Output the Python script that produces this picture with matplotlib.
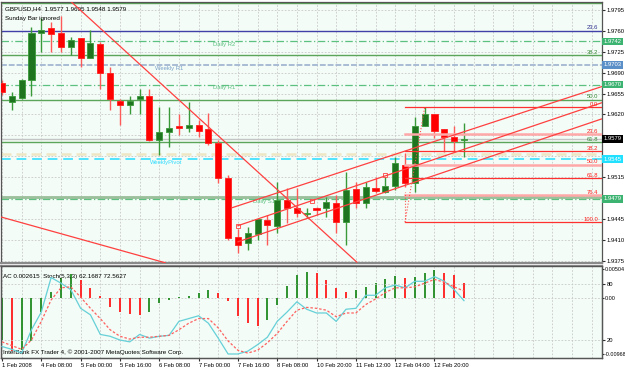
import matplotlib.pyplot as plt
import matplotlib.transforms as mtransforms

plt.rcParams['font.family'] = ['Liberation Sans', 'DejaVu Sans']

# Velas H4 de GBPUSD
apertura = [1.9673, 1.9640, 1.9648, 1.9677, 1.9756, 1.9764, 1.9756, 1.9732, 1.9747, 1.9714,
            1.9737, 1.9689, 1.9643, 1.9635, 1.9645, 1.9650, 1.9578, 1.9590, 1.9600, 1.9598,
            1.9603, 1.9595, 1.9573, 1.9514, 1.9415, 1.9405, 1.9420, 1.9444, 1.9434, 1.9477,
            1.9464, 1.9454, 1.9464, 1.9464, 1.9472, 1.9440, 1.9496, 1.9472, 1.9497, 1.9491,
            1.9501, 1.9536, 1.9506, 1.9600, 1.9620, 1.9595, 1.9583, 1.9577]
maximo = [1.9678, 1.9658, 1.9680, 1.9766, 1.9782, 1.9774, 1.9784, 1.9749, 1.9747, 1.9762,
          1.9741, 1.9699, 1.9645, 1.9650, 1.9662, 1.9662, 1.9632, 1.9633, 1.9621, 1.9640,
          1.9611, 1.9623, 1.9578, 1.9518, 1.9429, 1.9432, 1.9445, 1.9452, 1.9507, 1.9497,
          1.9497, 1.9464, 1.9465, 1.9482, 1.9486, 1.9523, 1.9507, 1.9507, 1.9516, 1.9516,
          1.9548, 1.9556, 1.9615, 1.9632, 1.9621, 1.9596, 1.9600, 1.9605]
minimo = [1.9653, 1.9628, 1.9645, 1.9650, 1.9724, 1.9725, 1.9724, 1.9720, 1.9700, 1.9714,
          1.9662, 1.9628, 1.9603, 1.9620, 1.9620, 1.9575, 1.9553, 1.9566, 1.9586, 1.9591,
          1.9583, 1.9569, 1.9506, 1.9410, 1.9388, 1.9393, 1.9410, 1.9402, 1.9422, 1.9439,
          1.9449, 1.9447, 1.9452, 1.9449, 1.9422, 1.9402, 1.9464, 1.9464, 1.9489, 1.9489,
          1.9494, 1.9499, 1.9491, 1.9600, 1.9580, 1.9558, 1.9558, 1.9548]
cierre = [1.9658, 1.9650, 1.9677, 1.9757, 1.9761, 1.9754, 1.9732, 1.9744, 1.9714, 1.9739,
          1.9690, 1.9645, 1.9635, 1.9643, 1.9650, 1.9578, 1.9590, 1.9598, 1.9598, 1.9603,
          1.9593, 1.9573, 1.9514, 1.9414, 1.9402, 1.9422, 1.9445, 1.9435, 1.9477, 1.9464,
          1.9455, 1.9455, 1.9460, 1.9474, 1.9440, 1.9494, 1.9472, 1.9499, 1.9492, 1.9501,
          1.9538, 1.9506, 1.9601, 1.9620, 1.9593, 1.9583, 1.9575, 1.9579]

# Indicadores: Accelerator y Estocastico
ac = [-0.0073, -0.0092, -0.0090, -0.0075, -0.0024, 0.0011, 0.0035, 0.0041, 0.0031, 0.0018,
      0.0003, -0.0015, -0.0025, -0.0027, -0.0029, -0.0024, -0.0009, -0.0003, 0.0002, 0.0004,
      0.0008, 0.0014, 0.0008, -0.0006, -0.0031, -0.0044, -0.0048, -0.0038, -0.0013, 0.0020,
      0.0040, 0.0045, 0.0043, 0.0031, 0.0018, 0.0011, 0.0014, 0.0019, 0.0026, 0.0033,
      0.0038, 0.0034, 0.0036, 0.0043, 0.0049, 0.0043, 0.0040, 0.0026]
stoch_main = [13, 10, 6, 31, 50, 87, 81, 74, 54, 47, 26, 24, 20, 18, 26, 22, 24, 25, 40, 43,
              46, 38, 22, 5, 5, 8, 15, 23, 40, 50, 61, 53, 49, 49, 40, 53, 54, 68, 68, 76,
              79, 76, 83, 83, 88, 83, 74, 62.2]
stoch_signal = [18, 14, 10, 20, 40, 63, 76, 77, 66, 54, 43, 31, 24, 21, 23, 23, 24, 25, 31, 38,
                43, 43, 33, 19, 9, 6, 9, 17, 27, 40, 52, 55, 54, 52, 45, 49, 49, 58, 64, 71,
                76, 76, 77, 81, 85, 82, 77, 72.6]

fechas = ['1 Feb 2008', '4 Feb 08:00', '5 Feb 00:00', '5 Feb 16:00', '6 Feb 08:00',
          '7 Feb 00:00', '7 Feb 16:00', '8 Feb 08:00', '10 Feb 20:00', '11 Feb 12:00',
          '12 Feb 04:00', '12 Feb 20:00']
pos_fechas = [0, 4, 8, 12, 16, 20, 24, 28, 32, 36, 40, 44]

ticks_precio = [1.9375, 1.9410, 1.9445, 1.9480, 1.9515, 1.9550, 1.9585,
                1.9620, 1.9655, 1.9690, 1.9725, 1.9760, 1.9795]
# las que quedan tapadas por las etiquetas de color
ticks_ocultos = [1.9480, 1.9550, 1.9585]

# Pivotes (precio, texto, x del texto, color)
pivotes = [(1.9742, 'Daily R2', 21.5, '#5cc080'),
           (1.9670, 'Daily R1', 21.5, '#5cc080'),
           (1.9479, 'Daily S1', 25.5, '#5cc080')]
weekly_r1 = 1.9703
weekly_pivot = 1.9545
pivote_diario = 1.9554
precio_actual = 1.9579

# Fibonacci grande (niveles visibles)
fibo_grande = [(1.98067, ''), (1.97187, '38.2'), (1.96449, '50.0'), (1.95736, '61.8'), (1.94814, '')]
linea_azul = 1.9760

# Fibonacci pequeno
fibo_alto = 1.9632
fibo_bajo = 1.9440
niveles_fibo = [0.0, 23.6, 38.2, 50.0, 61.8, 76.4, 100.0]

# Canal de regresion y otras tendencias (indice de vela, precio)
tendencias = [([23.4, 61.1], [1.9464, 1.9667]),
              ([24.0, 61.1], [1.9434, 1.9640]),
              ([24.0, 61.1], [1.9407, 1.9613]),
              ([7.0, 36.1], [1.9809, 1.9373]),
              ([-0.2, 16.6], [1.9449, 1.9372])]
anclas = ([24.0, 31.5, 39.0], [1.9434, 1.9476, 1.9518])

# Etiquetas del eje de precios
etiquetas = [(1.9742, '#3cb371'), (1.9703, '#5b8fc8'), (1.9670, '#3cb371'),
             (1.9579, 'black'), (1.9545, '#22e0ff'), (1.9479, '#3cb371')]

fondo = '#f3fcf6'
fig = plt.figure(figsize=(6.25, 3.70), dpi=100, facecolor='white')
ax = fig.add_axes([1 / 625, 107 / 370, 601 / 625, 261 / 370], facecolor=fondo)
ax2 = fig.add_axes([1 / 625, 12 / 370, 601 / 625, 92 / 370], facecolor=fondo, sharex=ax)
ax3 = ax2.twinx()

xmin, xmax = -0.1, 61.04
ax.set_xlim(xmin, xmax)
ax.set_ylim(1.93716, 1.98080)

# rejilla
for i in range(0, 62, 2):
    ax.axvline(i, color='#c8c8c8', lw=0.6, ls=(0, (2, 2)), zorder=0)
    ax2.axvline(i, color='#c8c8c8', lw=0.6, ls=(0, (2, 2)), zorder=0)
for p in ticks_precio:
    ax.axhline(p, color='#c8c8c8', lw=0.6, ls=(0, (2, 2)), zorder=0)

# niveles horizontales
for p, txt in fibo_grande:
    ax.axhline(p, color='#5aa55a', lw=1.0, zorder=1)
ax.axhline(fibo_grande[-1][0], color='#9cc09c', lw=2.0, zorder=1)
ax.axhline(linea_azul, color='#4040a8', lw=1.0, zorder=1)
ax.axhline(weekly_r1, color='#a8bcd4', lw=1.4, ls=(0, (3, 1)), zorder=1)
ax.axhline(pivote_diario, color='#efe6c4', lw=1.8, ls=(0, (4, 2)), zorder=1)
ax.axhline(weekly_pivot, color='#50e4ff', lw=1.4, ls=(0, (5, 3)), zorder=1)
ax.axhline(precio_actual, color='#c4c4c4', lw=1.0, zorder=1)
for p, txt, xt, col in pivotes:
    ax.axhline(p, color=col, lw=0.9, ls=(0, (6, 2, 1, 2)), zorder=1)
    ax.text(xt, p - 0.00012, txt, color=col, fontsize=4.2, va='top', ha='left', zorder=1)
ax.text(15.6, weekly_r1 - 0.00015, 'Weekly R1', color='#7aa0c8', fontsize=4.2, va='top', zorder=1)
ax.text(15.1, weekly_pivot - 0.00012, 'WeeklyPivot', color='#30dcff', fontsize=4.2, va='top', zorder=1)

ytr = mtransforms.blended_transform_factory(ax.transAxes, ax.transData)
ax.text(0.9935, linea_azul + 0.00005, '23.6', color='#303090', fontsize=4.2,
        ha='right', va='bottom', transform=ytr)
for p, txt in fibo_grande:
    if txt:
        ax.text(0.9935, p + 0.00005, txt, color='#3a8a3a', fontsize=4.2,
                ha='right', va='bottom', transform=ytr)

# fibonacci pequeno
x_fibo = 41.0
for n in niveles_fibo:
    p = fibo_alto - (fibo_alto - fibo_bajo) * n / 100
    if n in (23.6, 50.0, 76.4):
        ax.plot([x_fibo, xmax], [p, p], color='#ffa8a8', lw=1.8, zorder=4)
    else:
        ax.plot([x_fibo, xmax], [p, p], color='#ff3030', lw=0.9, zorder=4)
    ax.text(0.9935, p + 0.00005, '%.1f' % n, color='#ff2020', fontsize=4.2,
            ha='right', va='bottom', transform=ytr, zorder=5)
ax.plot([x_fibo, 43.0], [fibo_bajo, fibo_alto], color='#ff5050', lw=0.8, ls=':', zorder=4)
ax.plot([x_fibo, x_fibo], [fibo_bajo, 1.9490], color='#ff5050', lw=0.8, ls=':', zorder=4)

# velas
for i in range(len(apertura)):
    o, h, l, c = apertura[i], maximo[i], minimo[i], cierre[i]
    if c >= o:
        cuerpo, borde, mecha = '#1f751f', '#3a9a3a', '#3a9a3a'
    else:
        cuerpo, borde, mecha = '#ff0000', '#ff2020', '#ff5a5a'
    ax.vlines(i, l, h, color=mecha, lw=1.0, zorder=2)
    ax.bar(i, abs(c - o) if abs(c - o) > 0.00002 else 0.00002, bottom=min(o, c), width=0.62,
           color=cuerpo, edgecolor=borde, lw=0.6, zorder=3)

# lineas de tendencia
for xs, ys in tendencias:
    ax.plot(xs, ys, color='#ff4040', lw=0.9, zorder=4)
ax.plot(anclas[0], anclas[1], ls='none', marker='s', ms=2.2, mfc='none', mec='#ff4040', mew=0.6, zorder=5)

# eje de precios
ax.yaxis.tick_right()
ax.set_yticks(ticks_precio)
ax.set_yticklabels(['' if t in ticks_ocultos else '%.4f' % t for t in ticks_precio])
ax.tick_params(axis='y', labelsize=4.2, length=2, pad=1.5, color='#303030')
ax.tick_params(axis='x', bottom=False, labelbottom=False)
for p, col in etiquetas:
    ax.text(1.0025, p, '%.4f' % p, color='white', fontsize=4.2, va='center', ha='left',
            transform=ytr, clip_on=False, zorder=10,
            bbox=dict(boxstyle='square,pad=0.25', fc=col, ec='none'))

ax.text(0.006, 0.985, 'GBPUSD,H4  1.9577 1.9605 1.9548 1.9579', transform=ax.transAxes,
        fontsize=4.5, va='top', ha='left', color='black')
ax.text(0.006, 0.945, 'Sunday Bar ignored', transform=ax.transAxes,
        fontsize=4.5, va='top', ha='left', color='black')

# panel inferior
idx = list(range(len(ac)))
colores_ac = []
for i in idx:
    if i == 0 or ac[i] >= ac[i - 1]:
        colores_ac.append('#1f8a1f')
    else:
        colores_ac.append('#ff1a1a')
ax2.vlines(idx, 0, ac, colors=colores_ac, lw=1.3, zorder=2)
ax2.set_ylim(-0.01043, 0.00556)
ax2.axhline(0, color='#c8c8c8', lw=0.6, ls=(0, (2, 2)), zorder=0)
ax2.yaxis.tick_right()
ax2.set_yticks([-0.00968, 0.0, 0.00504])
ax2.set_yticklabels(['-0.00968', '0.00', '0.00504'])
ax2.tick_params(axis='y', labelsize=3.9, length=1.5, pad=0.6, color='#303030')

ax3.plot(idx, stoch_main, color='#66d0d8', lw=0.9, zorder=3)
ax3.plot(idx, stoch_signal, color='#ff6060', lw=0.9, ls=(0, (2, 1.5)), zorder=3)
ax3.set_ylim(0.7, 99.4)
ax3.set_yticks([20, 80])
ax3.set_yticklabels(['20', '80'])
ax3.tick_params(axis='y', labelsize=4.2, length=2, pad=1.5, color='#303030')
for v in (20, 80):
    ax3.axhline(v, color='#c8c8c8', lw=0.6, ls=(0, (2, 2)), zorder=0)

ax2.set_xticks(pos_fechas)
ax2.set_xticklabels(fechas)
ax2.tick_params(axis='x', labelsize=4.2, length=2.5, pad=1, color='#303030', direction='out')
for lab in ax2.get_xticklabels():
    lab.set_horizontalalignment('left')

ax2.text(0.004, 0.86, 'AC 0.002615  Stoch(5,3,3) 62.1687 72.5627', transform=ax2.transAxes,
         fontsize=4.5, va='bottom', ha='left', color='black')
ax2.text(0.004, 0.03, 'InterBank FX Trader 4, \u00a9 2001-2007 MetaQuotes Software Corp.',
         transform=ax2.transAxes, fontsize=4.5, va='bottom', ha='left', color='black')

for a in (ax, ax2, ax3):
    for s in a.spines.values():
        s.set_color('#555555')
        s.set_linewidth(0.9)
ax.spines['bottom'].set_color('#8a8a8a')
ax.spines['bottom'].set_linewidth(1.6)
ax2.spines['top'].set_color('#8a8a8a')
ax2.spines['top'].set_linewidth(1.6)

fig.savefig('out.png', dpi=100, facecolor='white')
